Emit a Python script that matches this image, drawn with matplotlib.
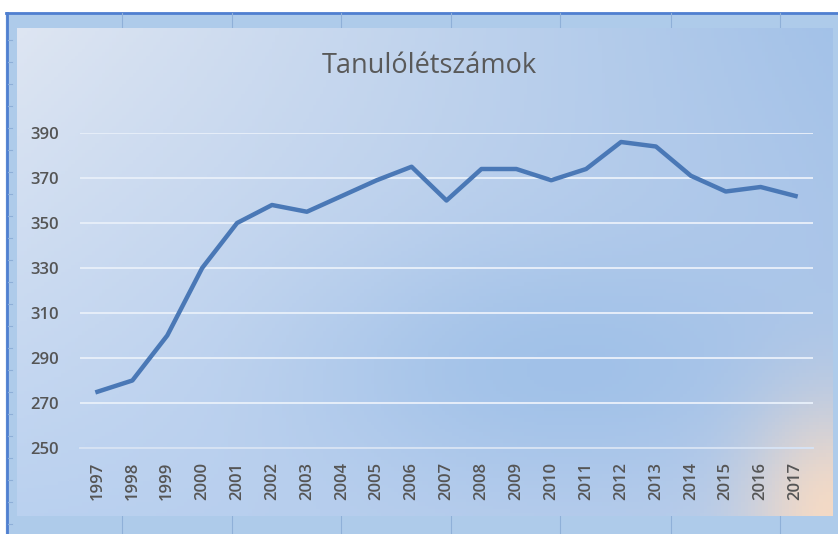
import numpy as np
import matplotlib
matplotlib.use("Agg")
import matplotlib.pyplot as plt
from matplotlib.patches import Rectangle

years = [str(y) for y in range(1997, 2018)]
students = [275, 280, 300, 330, 350, 358, 355, 362, 369, 375, 360,
            374, 374, 369, 374, 386, 384, 371, 364, 366, 362]
y_ticks = [250, 270, 290, 310, 330, 350, 370, 390]

W, H = 838, 534
fig = plt.figure(figsize=(W / 100, H / 100), dpi=100)
fig.patch.set_facecolor("white")


def fx(px):
    return px / W


def fy(py):
    return 1 - py / H


# spreadsheet frame around the chart
frame = fig.add_axes([0, 0, 1, 1], zorder=-2)
frame.set_xlim(0, W)
frame.set_ylim(H, 0)
frame.set_axis_off()
frame.add_patch(Rectangle((6, 13), W, H, color="#aecbea"))
frame.plot([6, W], [13, 13], color="#4f7fd0", lw=2)
frame.plot([7, 7], [13, H], color="#4f7fd0", lw=2)
for xc in [122, 232, 341, 451, 560, 671, 780]:
    frame.plot([xc, xc], [13, 28], color="#8fb0d8", lw=0.8)
    frame.plot([xc, xc], [516, H], color="#8fb0d8", lw=0.8)
for yc in range(40, 534, 22):
    frame.plot([8, 12], [yc, yc], color="#8fb0d8", lw=0.8)

# chart area background with a soft gradient (Excel style)
bg = fig.add_axes([fx(17), fy(516), fx(832 - 17), (516 - 28) / H], zorder=-1)
nx, ny = 240, 140
gx, gy = np.meshgrid(np.linspace(0, 1, nx), np.linspace(0, 1, ny))
tl = np.array([0.87, 0.90, 0.95])
tr = np.array([0.64, 0.76, 0.91])
bl = np.array([0.73, 0.82, 0.94])
br = np.array([0.72, 0.80, 0.92])
img = (tl * ((1 - gx) * (1 - gy))[..., None] + tr * (gx * (1 - gy))[..., None]
       + bl * ((1 - gx) * gy)[..., None] + br * (gx * gy)[..., None])
blob = np.exp(-(((gx - 0.66) / 0.30) ** 2 + ((gy - 0.70) / 0.25) ** 2))
blue = np.array([0.56, 0.72, 0.90])
img = img * (1 - 0.55 * blob[..., None]) + blue * 0.55 * blob[..., None]
peach = np.exp(-(((gx - 1.0) / 0.10) ** 2 + ((gy - 1.0) / 0.22) ** 2))
pc = np.array([0.98, 0.86, 0.76])
img = img * (1 - 0.9 * peach[..., None]) + pc * 0.9 * peach[..., None]
bg.imshow(img, aspect="auto", extent=[0, 1, 0, 1], origin="upper")
bg.set_axis_off()

ax = fig.add_axes([fx(80), fy(448), fx(813 - 80), (448 - 133) / H])
ax.patch.set_alpha(0)
x = np.arange(len(years))
ax.plot(x, students, color="#4a78b6", lw=3.2, solid_joinstyle="round",
        clip_on=False, zorder=3)
ax.set_xlim(-0.5, len(years) - 0.5)
ax.set_ylim(250, 390)
ax.set_yticks(y_ticks)
ax.set_xticks(x)
ax.set_xticklabels(years, rotation=90)
ax.grid(axis="y", color="#e6eef9", lw=1.4)
ax.set_axisbelow(True)
for s in ax.spines.values():
    s.set_visible(False)
ax.spines["bottom"].set_visible(True)
ax.spines["bottom"].set_color("#d6e2f3")
ax.spines["bottom"].set_linewidth(1.4)
ax.tick_params(length=0, colors="#555555", labelsize=12)
ax.tick_params(axis="y", pad=15)
ax.tick_params(axis="x", pad=10)
for lab in ax.get_xticklabels() + ax.get_yticklabels():
    lab.set_family("Open Sans")
    lab.set_fontweight("semibold")

fig.text(fx(429), fy(66), "Tanulólétszámok", ha="center", va="center",
         fontsize=19.5, color="#595959", family="Open Sans")

fig.savefig("out.png", dpi=100)
